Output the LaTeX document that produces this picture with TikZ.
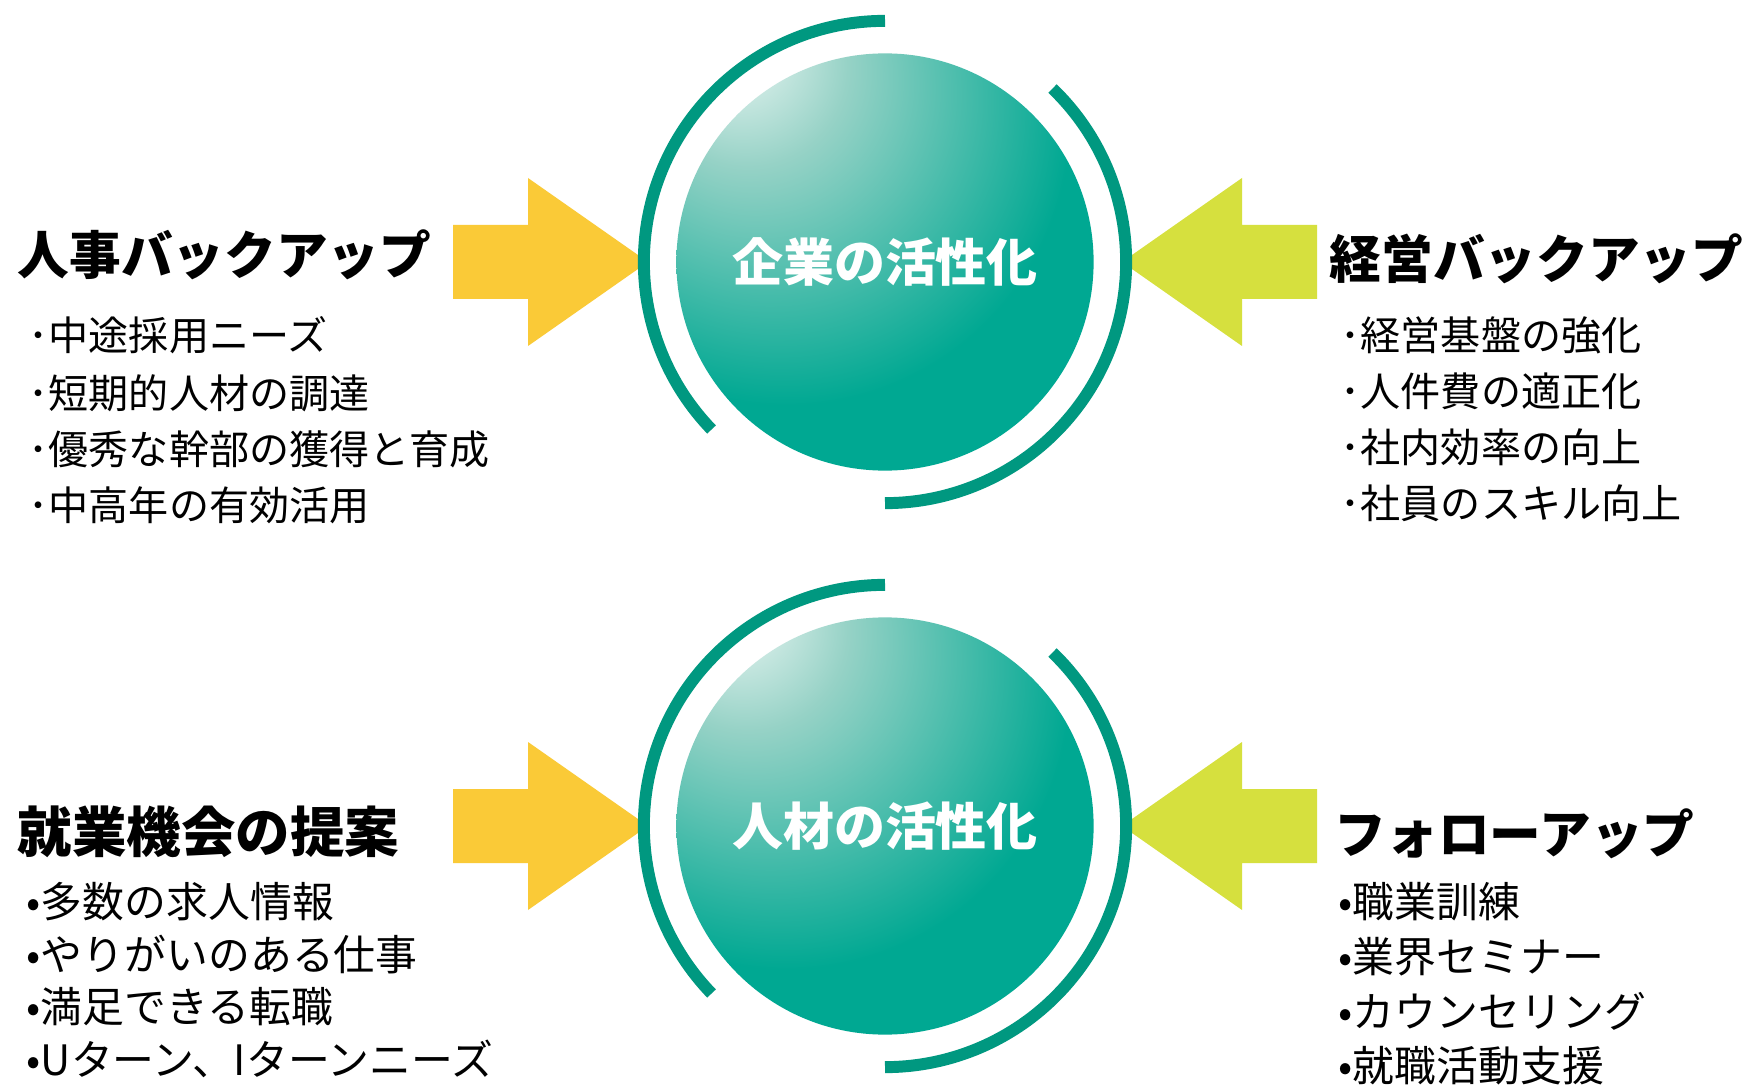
\documentclass[tikz,border=0pt]{standalone}
\usepackage{fontspec}
\newfontfamily\jp{Noto Sans CJK JP}
\newfontfamily\jpheavy{Noto Sans CJK JP Black}
\usetikzlibrary{positioning}

\definecolor{ringgreen}{RGB}{0,152,128}
\definecolor{pushyellow}{RGB}{250,202,55}
\definecolor{pushlime}{RGB}{214,224,62}
\definecolor{sphhi}{RGB}{244,250,248}
\definecolor{sphlight}{RGB}{150,210,198}
\definecolor{sphmid}{RGB}{0,168,146}
\definecolor{sphdark}{RGB}{0,142,120}

\pgfdeclareradialshading{sphereshade}{\pgfpoint{-19bp}{27bp}}{%
  color(0bp)=(sphhi); color(12bp)=(sphlight); color(34bp)=(sphmid);
  color(62bp)=(sphmid); color(90bp)=(sphdark)}

\tikzset{
  heading/.style={anchor=west, inner sep=0pt, font=\jpheavy\fontsize{14.7}{17}\selectfont},
  item/.style={anchor=west, inner sep=0pt, font=\jp\fontsize{11.4}{14}\selectfont},
  bigitem/.style={item, font=\jp\fontsize{11.9}{14}\selectfont},
  globe/.style={circle, inner sep=0pt, minimum size=4.17cm, shade, shading=sphereshade,
    text=white, font=\jpheavy\fontsize{14.5}{17}\selectfont},
  ring/.style={draw=ringgreen, line width=3.4pt},
}

\begin{document}
\begin{tikzpicture}[x=0.01cm, y=0.01cm]
  \useasboundingbox (0,0) rectangle (1751,1087);
  \fill[white] (0,0) rectangle (1751,1087);

  % top row
  \node[globe] (firm) at (885,825) {企業の活性化};
  \fill[pushyellow] (453,788) -- (528,788) -- (528,741) -- (648,825) -- (528,909) -- (528,862) -- (453,862) -- cycle;
  \fill[pushlime] (1317,788) -- (1242,788) -- (1242,741) -- (1122,825) -- (1242,909) -- (1242,862) -- (1317,862) -- cycle;
  \draw[ring] (firm.center) ++(90:2.41cm) arc[start angle=90, end angle=224, radius=2.41cm];
  \draw[ring] (firm.center) ++(46:2.41cm) arc[start angle=46, end angle=-90, radius=2.41cm];

  \node[heading] (hr) at (17,832) {人事バックアップ};
  \node[item] (hr1) at (28,752) {･中途採用ニーズ};
  \node[item] (hr2) at (28,694) {･短期的人材の調達};
  \node[item] (hr3) at (28,638) {･優秀な幹部の獲得と育成};
  \node[item] (hr4) at (28,582) {･中高年の有効活用};

  \node[heading] (mgmt) at (1329,828) {経営バックアップ};
  \node[item] (mgmt1) at (1340,752) {･経営基盤の強化};
  \node[item] (mgmt2) at (1340,696) {･人件費の適正化};
  \node[item] (mgmt3) at (1340,640) {･社内効率の向上};
  \node[item] (mgmt4) at (1340,584) {･社員のスキル向上};

  % bottom row
  \node[globe] (staff) at (885,261) {人材の活性化};
  \fill[pushyellow] (453,224) -- (528,224) -- (528,177) -- (648,261) -- (528,345) -- (528,298) -- (453,298) -- cycle;
  \fill[pushlime] (1317,224) -- (1242,224) -- (1242,177) -- (1122,261) -- (1242,345) -- (1242,298) -- (1317,298) -- cycle;
  \draw[ring] (staff.center) ++(90:2.41cm) arc[start angle=90, end angle=224, radius=2.41cm];
  \draw[ring] (staff.center) ++(46:2.41cm) arc[start angle=46, end angle=-90, radius=2.41cm];

  \node[heading, font=\jpheavy\fontsize{15.5}{18}\selectfont] (job) at (17,255) {就業機会の提案};
  \node[bigitem] (job1) at (26,185) {•多数の求人情報};
  \node[bigitem] (job2) at (26,132) {•やりがいのある仕事};
  \node[bigitem] (job3) at (26,80) {•満足できる転職};
  \node[bigitem] (job4) at (26,28) {•Uターン、Iターンニーズ};

  \node[heading] (follow) at (1334,253) {フォローアップ};
  \node[bigitem] (follow1) at (1338,185) {•職業訓練};
  \node[bigitem] (follow2) at (1338,130) {•業界セミナー};
  \node[bigitem] (follow3) at (1338,76) {•カウンセリング};
  \node[bigitem] (follow4) at (1338,21) {•就職活動支援};
\end{tikzpicture}
\end{document}
